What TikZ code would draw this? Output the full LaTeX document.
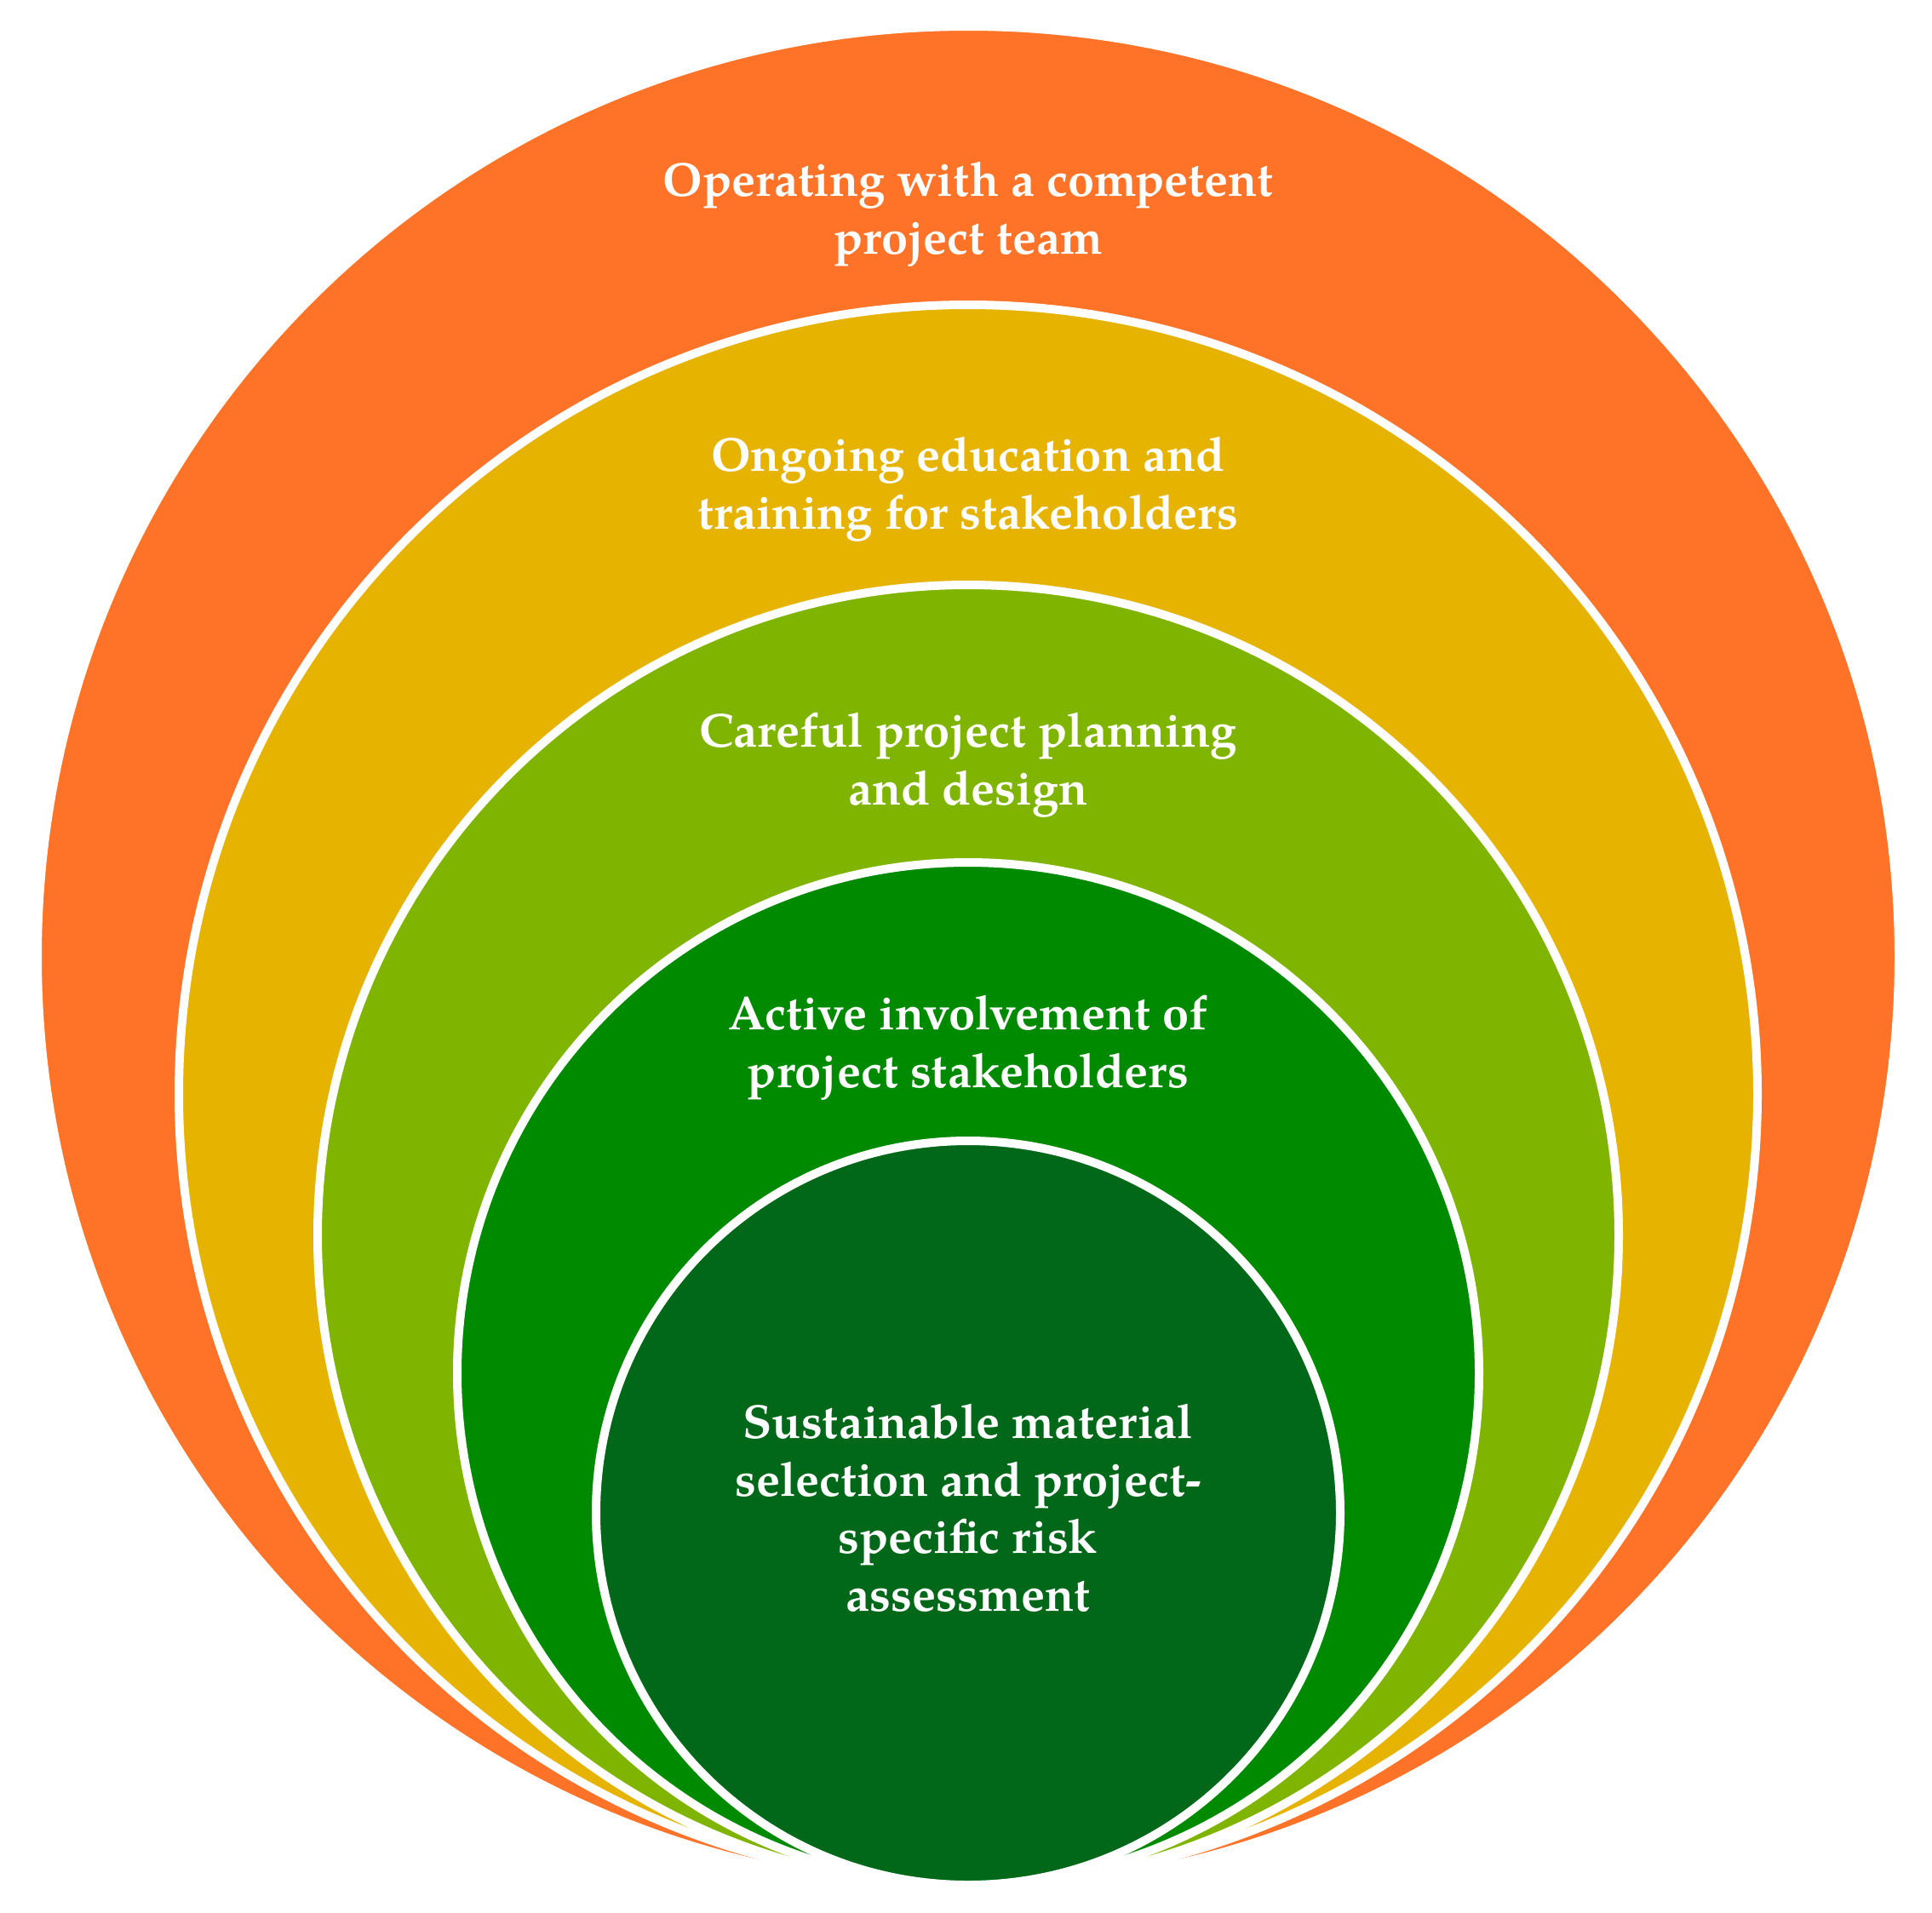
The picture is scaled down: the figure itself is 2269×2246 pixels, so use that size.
\documentclass[tikz,border=0pt]{standalone}
\usepackage{fontspec}
\newfontfamily\palbold{texgyrepagella-bold.otf}
\definecolor{ringA}{RGB}{255,115,40}
\definecolor{ringB}{RGB}{230,179,0}
\definecolor{ringC}{RGB}{127,180,0}
\definecolor{ringD}{RGB}{0,138,0}
\definecolor{ringE}{RGB}{0,104,24}
\tikzset{
  ring/.style={circle, inner sep=0pt, outer sep=0pt, draw=white, line width=10pt, minimum size=#1},
  lbl/.style={text=white, align=center, anchor=base, inner sep=0pt,
    font=\palbold\fontsize{56}{67.5}\selectfont}
}
\begin{document}
\begin{tikzpicture}[x=1pt,y=-1pt]
\useasboundingbox[fill=white] (0,0) rectangle (2269,2246);
\node[ring=2186pt, fill=ringA] (c1) at (1137,1124) {};
\node[ring=1854pt, fill=ringB] (c2) at (1137,1285) {};
\node[ring=1528pt, fill=ringC] (c3) at (1137,1451) {};
\node[ring=1200pt, fill=ringD] (c4) at (1137,1613) {};
\node[ring=874pt, fill=ringE] (c5) at (1137,1777) {};
\node[lbl] (t1) at (1137,298) {Operating with a competent\\project team};
\node[lbl] (t2) at (1137,621) {Ongoing education and\\training for stakeholders};
\node[lbl] (t3) at (1137,945) {Careful project planning\\and design};
\node[lbl] (t4) at (1137,1277) {Active involvement of\\project stakeholders};
\node[lbl] (t5) at (1137,1892) {Sustainable material\\selection and project-\\specific risk\\assessment};
\end{tikzpicture}
\end{document}
